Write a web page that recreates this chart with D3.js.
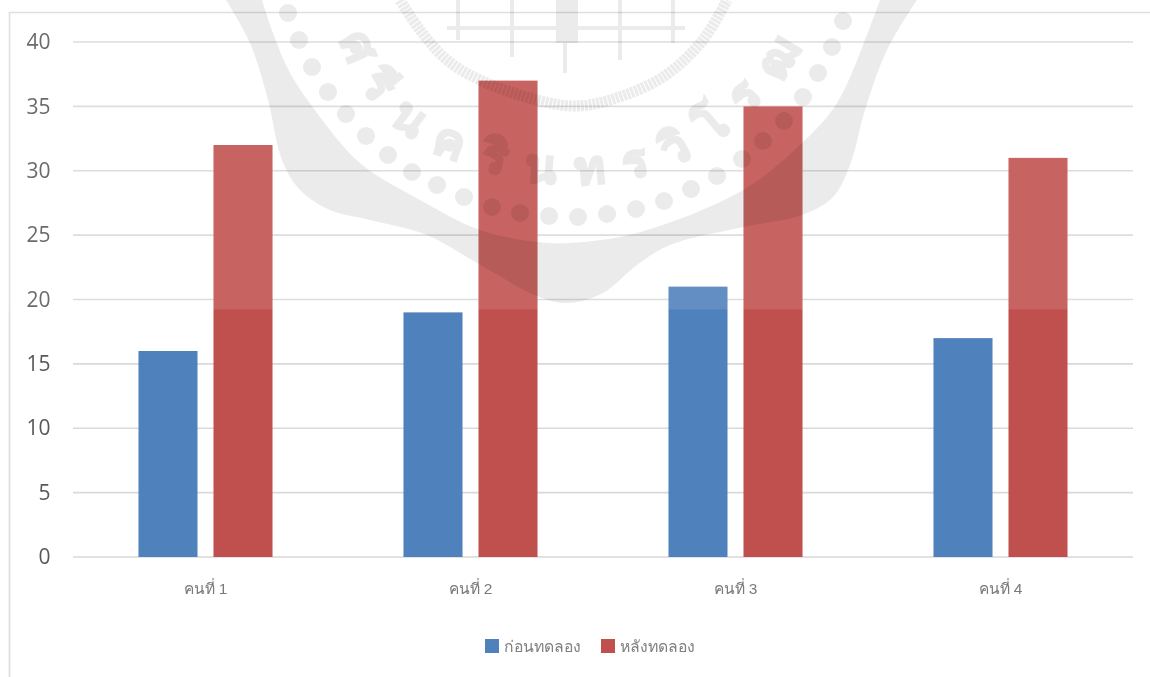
<!DOCTYPE html>
<html><head><meta charset="utf-8">
<script src="https://d3js.org/d3.v7.min.js"></script>
<style>
html,body{margin:0;padding:0;background:#fff}
svg{display:block}
</style></head><body>
<svg id="c" width="1150" height="677"></svg>
<script>
const categories=["คนที่ 1","คนที่ 2","คนที่ 3","คนที่ 4"];
const seriesNames=["ก่อนทดลอง","หลังทดลอง"];
const seriesColors=["#4f81bd","#c0504d"];
const before=[16,19,21,17];
const after=[32,37,35,31];
const yTicks=[0,5,10,15,20,25,30,35,40];

const svg=d3.select("#c");
const uiFont="'Liberation Sans',Arial,sans-serif";
const x0=d3.scaleBand().domain(categories).range([73,1133]);
const x1=d3.scaleBand().domain(seriesNames).range([0,x0.bandwidth()]).paddingInner(0.213).paddingOuter(0.873);
const y=d3.scaleLinear().domain([0,40]).range([557,42]);

// chart frame
svg.append("path").attr("d","M9.5,677V12.5H1150").attr("fill","none").attr("stroke","#dcdcdc").attr("stroke-width",1.6);

// grid
svg.append("g").selectAll("line").data(yTicks).join("line")
  .attr("x1",73).attr("x2",1133).attr("y1",d=>y(d)).attr("y2",d=>y(d))
  .attr("stroke","#d9d9d9").attr("stroke-width",1.6);

// y axis labels
const yAxis=d3.axisLeft(y).tickValues(yTicks).tickSize(0).tickPadding(0);
const yg=svg.append("g").attr("transform","translate(50.5,0)").call(yAxis);
yg.select(".domain").remove();
yg.selectAll("text").attr("font-family","'Open Sans',sans-serif").attr("font-size",21).attr("fill","#595959");

// bars
const groups=[before,after];
seriesNames.forEach((s,si)=>{
  svg.append("g").selectAll("rect").data(groups[si]).join("rect")
    .attr("x",(d,i)=>x0(categories[i])+x1(s)).attr("width",x1.bandwidth())
    .attr("y",d=>y(d)).attr("height",d=>y(0)-y(d))
    .attr("fill",seriesColors[si]);
});

// category labels
const xAxis=d3.axisBottom(x0).tickSize(0).tickPadding(0);
const xg=svg.append("g").attr("transform","translate(0,583)").call(xAxis);
xg.select(".domain").remove();
xg.selectAll("text").attr("font-family",uiFont).attr("font-size",15.5).attr("fill","#7a7a7a");

// legend
const legend=svg.append("g");
[485,601].forEach((lx,i)=>{
  legend.append("rect").attr("x",lx).attr("y",639).attr("width",14).attr("height",14).attr("fill",seriesColors[i]);
  legend.append("text").attr("x",lx+19).attr("y",652).attr("font-family",uiFont).attr("font-size",15.75).attr("fill","#7f7f7f").text(seriesNames[i]);
});

// background watermark (seal) laid over the page top
svg.append("rect").attr("x",0).attr("y",0).attr("width",1150).attr("height",309.5).attr("fill","#fff").attr("opacity",.11);
const wm=svg.append("g").style("mix-blend-mode","multiply");
const grey="#ebebeb";
const curve=d3.line().curve(d3.curveCatmullRom.alpha(.5));
const outer=[[226,0],[250,43],[268,100],[282,160],[300,190],[330,210],[370,220],[427,235],[477,263],[537,296],[567,303],[603,293],[637,265],[670,245],[743,227],[802,215],[833,197],[850,165],[865,110],[887,50],[917,0]];
const inner=[[880,0],[870,27],[837,103],[802,143],[743,190],[637,233],[570,243],[537,242],[480,230],[420,200],[360,163],[317,113],[290,73],[273,33],[262,0]];
wm.append("path").attr("d",curve(outer)+"L"+curve(inner).slice(1)+"Z").attr("fill",grey);
const dots=[[288,13],[299,40],[312,67],[328,92],[346,114],[366,136],[388,155],[412,172],[437,185],[464,197],[492,207],[520,213],[549,216],[578,217],[607,214],[636,209],[664,201],[691,189],[717,176],[742,159],[763,141],[784,121],[803,97],[818,73],[832,47],[843,21]];
wm.append("g").selectAll("circle").data(dots).join("circle").attr("cx",d=>d[0]).attr("cy",d=>d[1]).attr("r",9).attr("fill",grey);
const ring=[[400,0],[420,30],[447,60],[480,80],[537,100],[575,106],[610,100],[663,77],[703,40],[727,0]];
wm.append("path").attr("d",curve(ring)).attr("fill","none").attr("stroke",grey).attr("stroke-width",11).attr("stroke-dasharray","3 1");
// building lines
[[[447,28],[685,28]],[[458,0],[458,40]],[[512,0],[512,57]],[[565,40],[565,73]],[[620,0],[620,60]],[[673,0],[673,43]]].forEach(l=>{
  wm.append("path").attr("d",d3.line()(l)).attr("stroke",grey).attr("stroke-width",4).attr("fill","none");
});
wm.append("rect").attr("x",556).attr("y",0).attr("width",22).attr("height",43).attr("fill",grey);
// seal lettering
const base=[[335,25],[362,88],[413,140],[478,168],[540,182],[607,182],[667,168],[725,135],[765,95],[795,60],[818,15]];
const defs=svg.append("defs");
defs.append("path").attr("id","arc").attr("d",curve(base));
wm.append("text").attr("font-family","'Noto Sans','Liberation Sans',sans-serif").attr("font-weight",700).attr("font-size",46).attr("letter-spacing",21).attr("fill",grey).attr("stroke",grey).attr("stroke-width",2.5)
  .append("textPath").attr("href","#arc").attr("startOffset","50%").attr("text-anchor","middle").text("ศรีนครินทรวิโรฒ");
</script>
</body></html>
